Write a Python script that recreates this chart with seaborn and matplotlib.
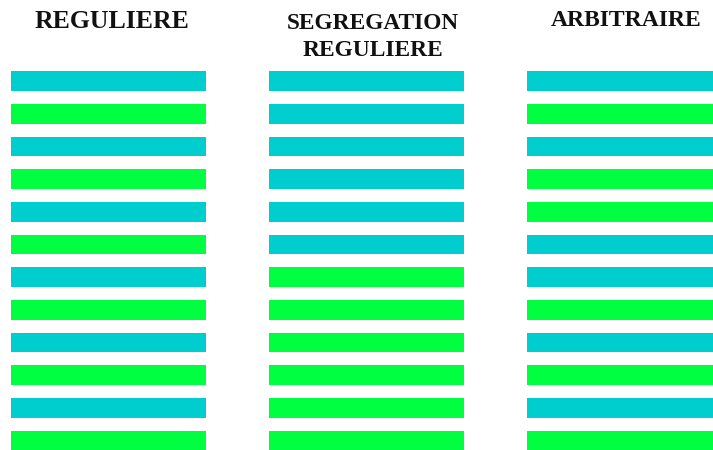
import matplotlib
matplotlib.use("Agg")
import matplotlib.pyplot as plt
import pandas as pd
import seaborn as sns

# row labels (top to bottom) and the colour of each bar per arrangement
rows = [str(i) for i in range(1, 13)]
reguliere = ["cyan", "vert"] * 6
segregation = ["cyan"] * 6 + ["vert"] * 6
arbitraire = ["cyan", "vert", "cyan", "vert", "vert", "cyan",
              "cyan", "vert", "cyan", "vert", "cyan", "vert"]
lengths = [1] * 12

titles = ["REGULIERE", "SEGREGATION\nREGULIERE", "ARBITRAIRE"]
palette = {"cyan": "#00CDCD", "vert": "#00FF40"}

W, H = 713, 450
fig = plt.figure(figsize=(W / 100, H / 100), dpi=100)
fig.patch.set_facecolor("white")

# pixel layout of each column (left edge, title centre x, title centre y, size)
lefts = [11, 269, 527]
title_x = [112, 373, 626]
title_y = [21, 37, 20]
title_size = [18.5, 16.8, 17]
bar_w = 195
top_px, bot_px = 64.9, 456.8

for i, (pattern, title) in enumerate(zip([reguliere, segregation, arbitraire], titles)):
    df = pd.DataFrame({"row": rows, "len": lengths, "couleur": pattern})
    ax = fig.add_axes([lefts[i] / W, (H - bot_px) / H,
                       bar_w / W, (bot_px - top_px) / H])
    sns.barplot(data=df, x="len", y="row", hue="couleur", palette=palette,
                orient="h", width=0.6, dodge=False, legend=False,
                saturation=1, linewidth=0, ax=ax)
    ax.set_xlim(0, 1)
    ax.set_ylim(11.5, -0.5)
    ax.axis("off")
    fig.text(title_x[i] / W, 1 - title_y[i] / H, title, ha="center",
             va="center", fontsize=title_size[i], fontweight="bold",
             family=["Liberation Serif", "DejaVu Serif"],
             linespacing=1.4, color="#111111")

fig.savefig("out.png", dpi=100)
